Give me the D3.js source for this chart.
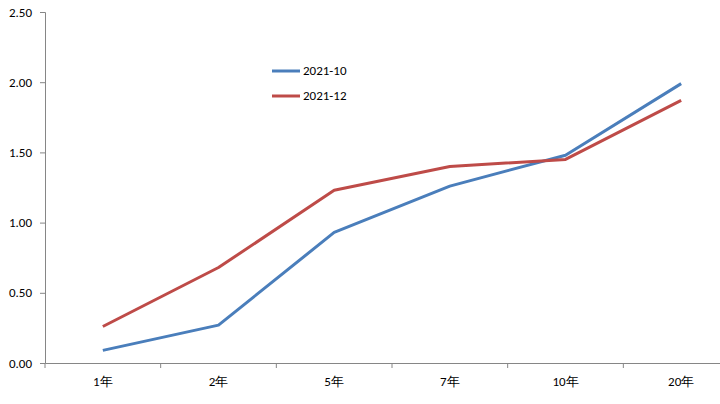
<!DOCTYPE html>
<html><head><meta charset="utf-8">
<script src="https://cdn.jsdelivr.net/npm/d3@7"></script>
<style>body{margin:0;background:#fff}svg{display:block}</style>
</head><body>
<script>
const categories = ["1年","2年","5年","7年","10年","20年"];
const seriesNames = ["2021-10","2021-12"];
const values2110 = [0.09,0.27,0.93,1.26,1.48,1.99];
const values2112 = [0.26,0.68,1.23,1.40,1.45,1.87];
const yTicks = [0,0.5,1.0,1.5,2.0,2.5];
const colors = ["#4a7ebb","#be4b48"];

(function(){
const W=720,H=404;
const svg=d3.select("body").append("svg").attr("width",W).attr("height",H);
const mLeft=45, mRight=739, mTop=12, mBottom=363;
const x=d3.scaleBand().domain(categories).range([mLeft,mRight]);
const y=d3.scaleLinear().domain([0,2.5]).range([mBottom,mTop]);
const font="Calibri, Carlito, 'Liberation Sans', Arial, sans-serif";

const ya=svg.append("g").attr("transform",`translate(${mLeft},0)`)
  .call(d3.axisLeft(y).tickValues(yTicks).tickFormat(d3.format(".2f")).tickSizeOuter(0).tickSize(5).tickPadding(8));
ya.select(".domain").attr("stroke","#868686");
ya.selectAll(".tick line").attr("stroke","#868686");
ya.selectAll("text").attr("font-family",font).attr("font-size",13).attr("fill","#000");

const xa=svg.append("g").attr("transform",`translate(0,${mBottom})`)
  .call(d3.axisBottom(x).tickSize(0).tickPadding(14));
xa.select(".domain").attr("stroke","#868686");
xa.selectAll("text").attr("font-family",font).attr("font-size",13).attr("fill","#000");
const bounds = categories.map(c=>x(c));
xa.selectAll(".bt").data(bounds).enter().append("line").attr("class","bt")
  .attr("x1",d=>d).attr("x2",d=>d).attr("y1",0).attr("y2",5).attr("stroke","#868686");

const line=d3.line().x((d,i)=>x(categories[i])+x.bandwidth()/2).y(d=>y(d));
[values2110,values2112].forEach((vals,k)=>{
  svg.append("path").datum(vals).attr("d",line).attr("fill","none")
    .attr("stroke",colors[k]).attr("stroke-width",3).attr("stroke-linejoin","round");
});

const lg=svg.append("g");
seriesNames.forEach((n,k)=>{
  const yy=71+k*25;
  lg.append("line").attr("x1",272).attr("x2",300).attr("y1",yy).attr("y2",yy).attr("stroke",colors[k]).attr("stroke-width",3);
  lg.append("text").attr("x",303).attr("y",yy+4).text(n).attr("font-family",font).attr("font-size",13);
});
})();
</script>
</body></html>
